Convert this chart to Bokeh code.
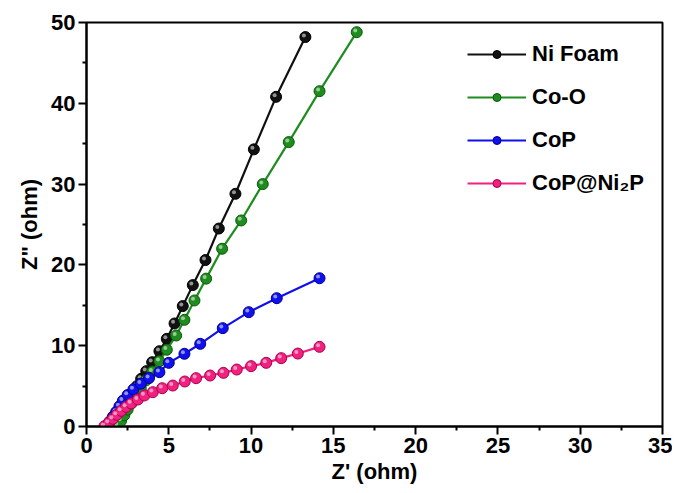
from bokeh.plotting import figure
from bokeh.models import Legend, LegendItem, FixedTicker, ColumnDataSource
from bokeh.transform import dodge
from bokeh.embed import file_html
from bokeh.resources import INLINE

# ---- data (Z', Z'') ----
ni_x = [1.6, 1.8, 2.0, 2.2, 2.4, 2.6, 2.81, 3.06, 3.32, 3.63, 3.99, 4.43, 4.88, 5.35, 5.85, 6.46, 7.23, 8.04, 9.05, 10.17, 11.52, 13.3]
ni_y = [0.4, 1.0, 1.65, 2.3, 2.95, 3.6, 4.25, 4.99, 5.9, 6.85, 7.96, 9.32, 10.85, 12.75, 14.9, 17.5, 20.6, 24.5, 28.8, 34.3, 40.8, 48.2]

coo_x = [1.9, 2.1, 2.3, 2.5, 2.75, 3.0, 3.3, 3.6, 4.0, 4.43, 4.88, 5.45, 5.95, 6.56, 7.27, 8.24, 9.40, 10.71, 12.29, 14.16, 16.42]
coo_y = [0.1, 0.7, 1.4, 2.1, 2.9, 3.8, 4.7, 5.7, 6.8, 8.08, 9.5, 11.26, 13.2, 15.6, 18.3, 22.0, 25.5, 30.0, 35.2, 41.5, 48.8]

cop_x = [1.2, 1.4, 1.6, 1.8, 2.0, 2.21, 2.5, 2.85, 3.3, 3.8, 4.43, 5.0, 5.95, 6.91, 8.28, 9.86, 11.56, 14.16]
cop_y = [0.05, 0.6, 1.2, 1.8, 2.5, 3.2, 3.9, 4.6, 5.3, 6.0, 6.72, 7.88, 9.0, 10.23, 12.17, 14.15, 15.88, 18.35]

cnp_x = [1.09, 1.35, 1.60, 1.84, 2.11, 2.41, 2.71, 3.12, 3.52, 4.03, 4.60, 5.24, 5.97, 6.66, 7.51, 8.32, 9.13, 10.0, 10.92, 11.83, 12.84, 14.16]
cnp_y = [0.04, 0.46, 0.95, 1.45, 1.94, 2.44, 2.85, 3.34, 3.84, 4.25, 4.74, 5.07, 5.57, 5.98, 6.31, 6.64, 7.05, 7.47, 7.88, 8.46, 9.03, 9.86]

names = ["Ni Foam", "Co-O", "CoP", "CoP@Ni\u2082P"]
colors = ["#111111", "#1e8c1e", "#1010ee", "#f2207f"]
edge = ["#000000", "#0a5a0a", "#00008a", "#a8004f"]
series = [(ni_x, ni_y), (coo_x, coo_y), (cop_x, cop_y), (cnp_x, cnp_y)]

x_ticks = [0, 5, 10, 15, 20, 25, 30, 35]
y_ticks = [0, 10, 20, 30, 40, 50]

FONT = "Liberation Sans"

p = figure(width=672, height=484, x_range=(0, 35), y_range=(0, 50),
           output_backend="svg", toolbar_location=None,
           min_border_left=86, min_border_right=10, min_border_top=22, min_border_bottom=58,
           frame_width=576, frame_height=404)
p.grid.visible = False
p.outline_line_color = "black"
p.outline_line_width = 2
p.background_fill_color = "white"
p.border_fill_color = "white"

for ax in (p.xaxis[0], p.yaxis[0]):
    ax.axis_line_width = 2
    ax.major_tick_line_width = 2
    ax.minor_tick_line_width = 2
    ax.major_tick_out = 8
    ax.major_tick_in = 0
    ax.minor_tick_out = 4
    ax.minor_tick_in = 0
    ax.major_label_text_font = FONT
    ax.major_label_text_font_style = "bold"
    ax.major_label_text_font_size = "22px"
    ax.major_label_text_color = "black"
    ax.axis_label_text_font = FONT
    ax.axis_label_text_font_style = "bold"
    ax.axis_label_text_font_size = "22px"
    ax.axis_label_text_color = "black"

p.xaxis.ticker = FixedTicker(ticks=x_ticks, minor_ticks=[2.5 + 5 * i for i in range(7)])
p.yaxis.ticker = FixedTicker(ticks=y_ticks, minor_ticks=[5 + 10 * i for i in range(5)])
p.xaxis.axis_label = "Z' (ohm)"
p.yaxis.axis_label = 'Z" (ohm)'
p.xaxis.major_label_standoff = 3
p.yaxis.major_label_standoff = 3
p.xaxis.axis_label_standoff = 3
p.yaxis.axis_label_standoff = 6

items = []
for (xs, ys), name, c, e in zip(series, names, colors, edge):
    src = ColumnDataSource(dict(x=xs, y=ys))
    ln = p.line("x", "y", source=src, line_color=c, line_width=2.2)
    sc = p.scatter("x", "y", source=src, size=11, fill_color=c, line_color=e, line_width=1)
    p.scatter(dodge("x", -0.09, range=p.x_range), dodge("y", 0.2, range=p.y_range), source=src,
              size=4, fill_color="white", fill_alpha=0.55, line_color=None)
    items.append(LegendItem(label=name, renderers=[ln, sc]))

legend = Legend(items=items, location=(381, 230))
legend.label_text_font = FONT
legend.label_text_font_style = "bold"
legend.label_text_font_size = "22px"
legend.label_text_color = "black"
legend.glyph_width = 59
legend.glyph_height = 20
legend.label_height = 20
legend.label_standoff = 6
legend.spacing = 17
legend.padding = 0
legend.margin = 0
legend.border_line_color = None
legend.background_fill_alpha = 0
p.add_layout(legend, "center")

open("out.html", "w").write(file_html(p, INLINE))
